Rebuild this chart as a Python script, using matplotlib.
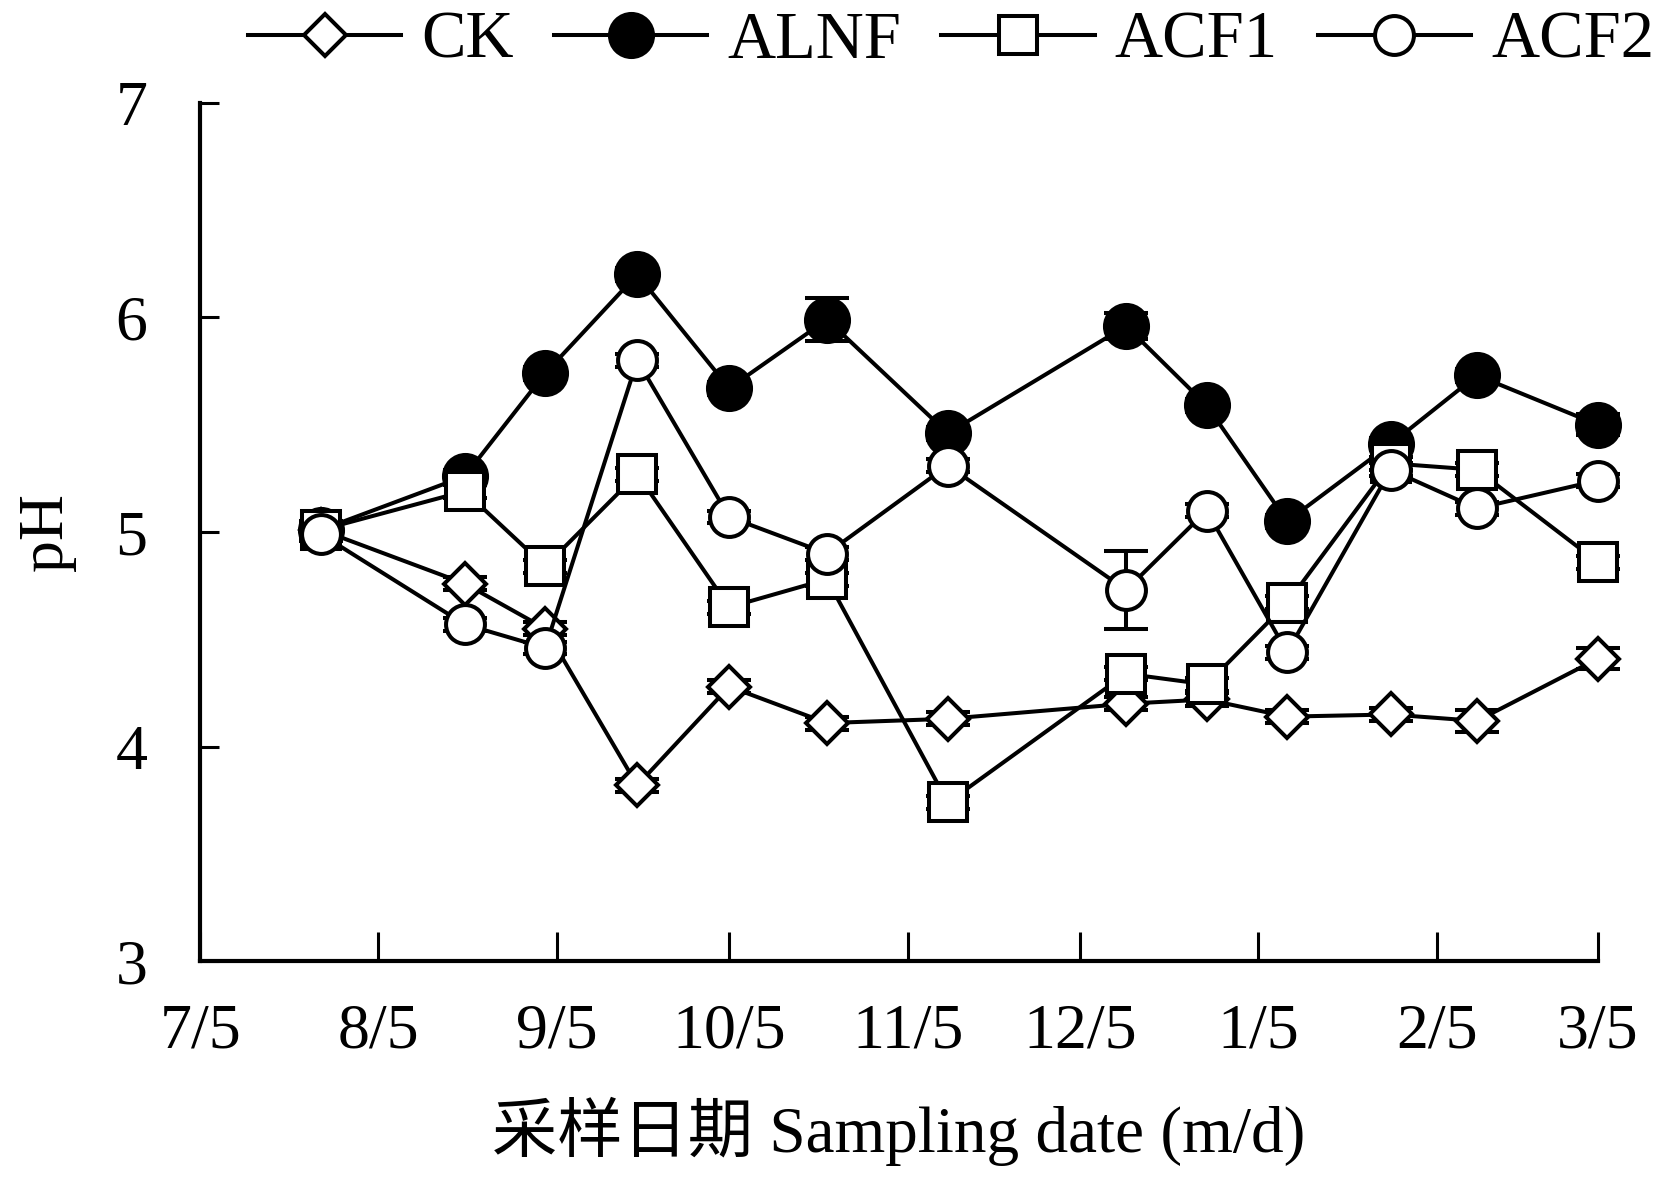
import pandas as pd
import matplotlib
matplotlib.use("Agg")
import matplotlib.pyplot as plt

plt.rcParams['font.family'] = ['Liberation Serif', 'Noto Sans CJK SC']

# sampling dates (year 2017-2018)
dates = ["2017-07-26", "2017-08-20", "2017-09-03", "2017-09-19", "2017-10-05",
         "2017-10-22", "2017-11-12", "2017-12-13", "2017-12-27", "2018-01-10",
         "2018-01-28", "2018-02-12", "2018-03-05"]

ck   = [5.01, 4.76, 4.55, 3.82, 4.28, 4.11, 4.13, 4.20, 4.22, 4.14, 4.15, 4.12, 4.41]
alnf = [5.01, 5.26, 5.74, 6.20, 5.67, 5.99, 5.46, 5.96, 5.59, 5.05, 5.41, 5.73, 5.50]
acf1 = [5.01, 5.19, 4.84, 5.27, 4.65, 4.78, 3.74, 4.34, 4.29, 4.67, 5.32, 5.29, 4.86]
acf2 = [4.99, 4.57, 4.46, 5.80, 5.07, 4.90, 5.31, 4.73, 5.10, 4.44, 5.29, 5.11, 5.24]

# standard errors (mostly hidden behind markers)
ck_err   = [0.03, 0.03, 0.03, 0.03, 0.03, 0.03, 0.03, 0.03, 0.03, 0.03, 0.03, 0.05, 0.05]
alnf_err = [0.04, 0.03, 0.03, 0.03, 0.03, 0.10, 0.03, 0.06, 0.03, 0.03, 0.03, 0.03, 0.05]
acf1_err = [0.04, 0.03, 0.03, 0.03, 0.03, 0.03, 0.03, 0.03, 0.03, 0.03, 0.03, 0.03, 0.03]
acf2_err = [0.03, 0.03, 0.03, 0.03, 0.03, 0.03, 0.03, 0.18, 0.03, 0.03, 0.03, 0.03, 0.03]

tick_dates = ["2017-07-05", "2017-08-05", "2017-09-05", "2017-10-05", "2017-11-05",
              "2017-12-05", "2018-01-05", "2018-02-05", "2018-03-05"]
tick_labels = ["7/5", "8/5", "9/5", "10/5", "11/5", "12/5", "1/5", "2/5", "3/5"]

start = pd.Timestamp(tick_dates[0])
x = [(pd.Timestamp(d) - start).days for d in dates]
xt = [(pd.Timestamp(d) - start).days for d in tick_dates]

fig = plt.figure(figsize=(16.54, 11.81), dpi=100)
ax = fig.add_axes([0.121, 0.186, 0.845, 0.727])

lw = 2.9
series = [
    ("CK", ck, ck_err, "D", "white", 21),
    ("ALNF", alnf, alnf_err, "o", "black", 31),
    ("ACF1", acf1, acf1_err, "s", "white", 28),
    ("ACF2", acf2, acf2_err, "o", "white", 28),
]
handles = []
for name, vals, err, mk, fc, ms in series:
    eb = ax.errorbar(x, vals, yerr=err, color="black", lw=lw, marker=mk, ms=ms,
                     mfc=fc, mec="black", mew=lw, capsize=16, capthick=lw,
                     elinewidth=lw, label=name)
    for art in eb.lines[0:1] + eb.lines[1] + eb.lines[2]:
        art.set_clip_on(False)
    handles.append(eb.lines[0])

ax.set_xlim(xt[0], xt[-1])
ax.set_ylim(3, 7)
ax.set_xticks(xt)
ax.set_xticklabels(tick_labels)
ax.set_yticks([3, 4, 5, 6, 7])

for s in ["top", "right"]:
    ax.spines[s].set_visible(False)
for s in ["left", "bottom"]:
    ax.spines[s].set_linewidth(3)

ax.tick_params(axis="x", direction="in", length=21, width=2.2, labelsize=46, pad=30)
ax.tick_params(axis="y", direction="in", length=14, width=2.2, labelsize=46, pad=38)

ax.set_ylabel("pH", fontsize=46, labelpad=28)
ax.set_xlabel("采样日期 Sampling date (m/d)", fontsize=47, labelpad=26)

fig.legend(handles, [s[0] for s in series], loc="center", bbox_to_anchor=(0.575, 0.965),
           ncol=4, frameon=False, fontsize=48, handlelength=2.3, handletextpad=0.3,
           columnspacing=0.6, borderaxespad=0)

plt.savefig("out.png", dpi=100)
plt.close()
